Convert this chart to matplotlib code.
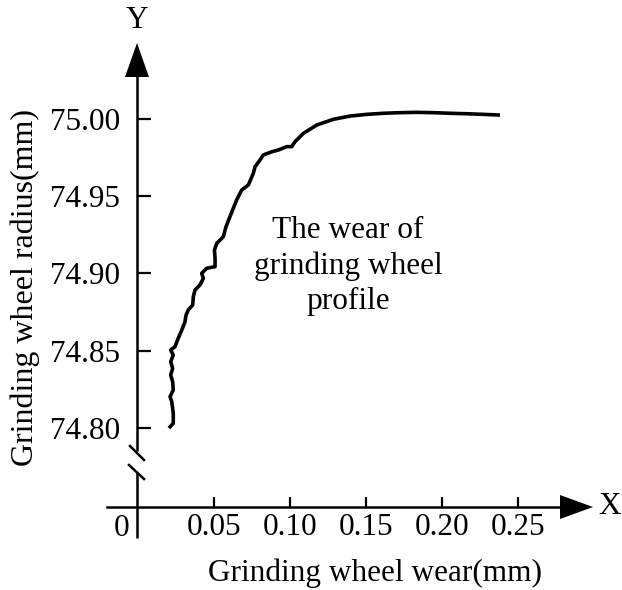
"""Grinding wheel radius vs wear: profile wear curve with broken y-axis."""
import matplotlib
matplotlib.use("Agg")
import matplotlib.pyplot as plt

plt.rcParams["font.family"] = ["Liberation Serif", "DejaVu Serif"]

# curve (wear mm, radius mm)
wear = [0.0211, 0.0232, 0.0232, 0.0222, 0.0211, 0.0232, 0.0228, 0.0215,
        0.0228, 0.0215, 0.0232, 0.0215, 0.0243, 0.0265, 0.0288, 0.0309,
        0.0316, 0.0331, 0.0360, 0.0364, 0.0375, 0.0408, 0.0430, 0.0419,
        0.0452, 0.0507, 0.0507, 0.0503, 0.0518, 0.0561, 0.0579, 0.0605,
        0.0649, 0.0682, 0.0726, 0.0759, 0.0770, 0.0803, 0.0824, 0.0880,
        0.0923, 0.0978, 0.1011, 0.1033, 0.1088, 0.1176, 0.1285, 0.1395,
        0.1505, 0.1614, 0.1724, 0.1834, 0.1943, 0.2053, 0.2162, 0.2272,
        0.2370]
radius = [74.8008, 74.8030, 74.8095, 74.8170, 74.8203, 74.8246, 74.8300,
          74.8343, 74.8386, 74.8429, 74.8472, 74.8505, 74.8526, 74.8581,
          74.8634, 74.8688, 74.8731, 74.8764, 74.8796, 74.8850, 74.8893,
          74.8926, 74.8969, 74.9001, 74.9034, 74.9044, 74.9098, 74.9152,
          74.9195, 74.9238, 74.9303, 74.9368, 74.9476, 74.9540, 74.9573,
          74.9649, 74.9691, 74.9735, 74.9767, 74.9788, 74.9799, 74.9821,
          74.9821, 74.9853, 74.9907, 74.9961, 74.9998, 75.0019, 75.0030,
          75.0037, 75.0041, 75.0043, 75.0041, 75.0037, 75.0034, 75.0030,
          75.0026]

xticks = [0.05, 0.10, 0.15, 0.20, 0.25]
xtick_labels = ["0.05", "0.10", "0.15", "0.20", "0.25"]
yticks = [74.80, 74.85, 74.90, 74.95, 75.00]
ytick_labels = ["74.80", "74.85", "74.90", "74.95", "75.00"]

FS = 22.5
W, H = 622, 590
# pixel scale of the reference: x=0 at px 138, 1520 px per mm; y=75 at px 119, 1545 px per mm
X0, XS, Y0, YS = 138, 1520.0, 119, 1545.0


def px(xp, yp):
    """reference pixel -> data coords (for axis decorations only)"""
    return (xp - X0) / XS, 75.0 - (yp - Y0) / YS


fig = plt.figure(figsize=(W / 100, H / 100), dpi=100)
ax = fig.add_axes([0, 0, 1, 1])
ax.set_xlim(px(0, 0)[0], px(W, 0)[0])
ax.set_ylim(px(0, H)[1], px(0, 0)[1])
ax.patch.set_visible(False)

for s in ["top", "right", "left"]:
    ax.spines[s].set_visible(False)
xaxis_y = px(0, 507)[1]
ax.spines["bottom"].set_position(("data", xaxis_y))
ax.spines["bottom"].set_bounds(px(107, 0)[0], px(565, 0)[0])
ax.spines["bottom"].set_linewidth(1.8)
ax.spines["left"].set_position(("data", 0))

ax.set_xticks(xticks)
ax.set_xticklabels(xtick_labels)
ax.set_yticks(yticks)
ax.set_yticklabels(ytick_labels)
ax.tick_params(axis="x", direction="in", length=7.5, width=1.6, pad=4, labelsize=FS)
ax.tick_params(axis="y", direction="in", length=9.5, width=1.6, pad=13, labelsize=FS)

# y axis with break marks
lw = 1.8
ax.plot(*zip(px(137, 70), px(137, 451)), color="black", lw=lw, solid_capstyle="butt")
ax.plot(*zip(px(137, 472), px(137, 538)), color="black", lw=lw, solid_capstyle="butt")
ax.plot(*zip(px(130, 446), px(144, 460)), color="black", lw=lw)
ax.plot(*zip(px(129, 465), px(144, 479)), color="black", lw=lw)

# arrow heads
ax.fill(*zip(px(137, 43), px(125, 77), px(149, 77)), color="black", lw=0)
ax.fill(*zip(px(593, 507), px(560, 495), px(560, 519)), color="black", lw=0)

ax.plot(wear, radius, color="black", lw=2.6, solid_joinstyle="round")

ax.text(*px(137, 20), "Y", fontsize=FS, ha="center", va="center")
ax.text(*px(610, 507), "X", fontsize=FS, ha="center", va="center")
ax.text(*px(122, 528), "0", fontsize=FS, ha="center", va="center")
ax.text(*px(375, 573), "Grinding wheel wear(mm)", fontsize=FS,
        ha="center", va="center")
ax.text(*px(25, 287), "Grinding wheel radius(mm)", fontsize=23,
        ha="center", va="center", rotation=90)
ax.text(*px(348, 266), "The wear of\ngrinding wheel\nprofile", fontsize=FS,
        ha="center", va="center", multialignment="center", linespacing=1.3)

fig.savefig("out.png", dpi=100)
